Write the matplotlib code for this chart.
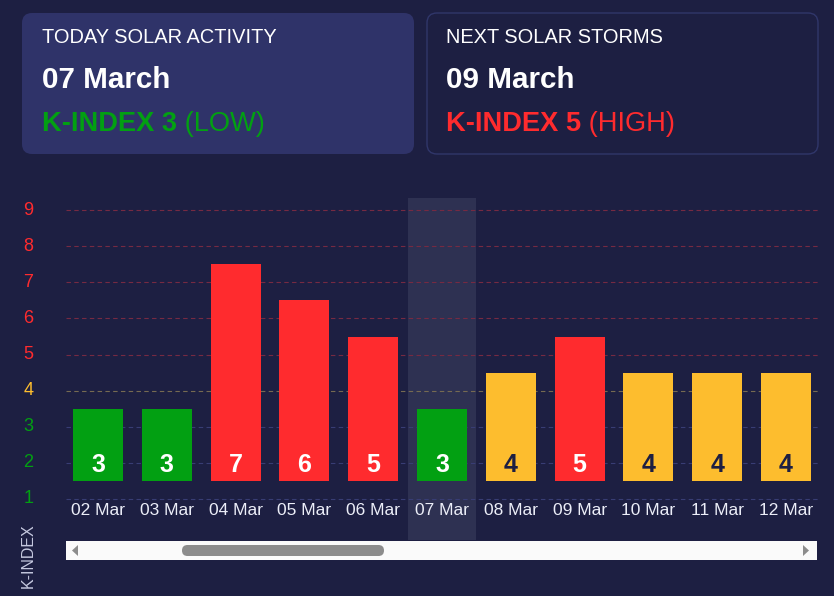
import numpy as np
from matplotlib import pyplot as plt
from matplotlib.patches import FancyBboxPatch, Rectangle, Polygon

plt.rcParams["font.family"] = ["Liberation Sans", "DejaVu Sans"]

dates = ["02 Mar", "03 Mar", "04 Mar", "05 Mar", "06 Mar", "07 Mar",
         "08 Mar", "09 Mar", "10 Mar", "11 Mar", "12 Mar"]
kindex = [3, 3, 7, 6, 5, 3, 4, 5, 4, 4, 4]
today_idx = 5
levels = [1, 2, 3, 4, 5, 6, 7, 8, 9]

BG = "#1d1f42"
CARD = "#2f3369"
GREEN = "#02a012"
YELLOW = "#fdbd2e"
RED = "#ff2b2e"


def level_color(k):
    if k <= 3:
        return GREEN
    if k == 4:
        return YELLOW
    return RED


def grid_color(k):
    if k <= 3:
        return "#383d74"
    if k == 4:
        return "#766a52"
    return "#762a42"


fig = plt.figure(figsize=(8.34, 5.96), dpi=100, facecolor=BG)

# full-figure pixel axes for cards and scrollbar
bg = fig.add_axes([0, 0, 1, 1])
bg.set_xlim(0, 834)
bg.set_ylim(596, 0)
bg.axis("off")
bg.set_facecolor(BG)

bg.add_patch(FancyBboxPatch((22, 13), 392, 141, boxstyle="round,pad=0,rounding_size=10",
                            fc=CARD, ec="none"))
bg.add_patch(FancyBboxPatch((427, 13), 391, 141, boxstyle="round,pad=0,rounding_size=10",
                            fc=BG, ec="#30366a", lw=1))

cards = [(42, "TODAY SOLAR ACTIVITY", "07 March", "K-INDEX 3", " (LOW)", GREEN),
         (446, "NEXT SOLAR STORMS", "09 March", "K-INDEX 5", " (HIGH)", RED)]
for x0, title, day, kbold, klevel, col in cards:
    bg.text(x0, 43, title, color="white", fontsize=14.4, va="baseline", ha="left")
    bg.text(x0, 88, day, color="white", fontsize=21.3, fontweight="bold", va="baseline", ha="left")
    t = bg.text(x0, 131, kbold, color=col, fontsize=19.6, fontweight="bold", va="baseline", ha="left")
    bg.annotate(klevel, xy=(1, 0), xycoords=t, color=col, fontsize=19.6, va="bottom", ha="left")

# scrollbar
bg.add_patch(Rectangle((66, 541), 751, 19, fc="#fafafa", ec="none"))
bg.add_patch(FancyBboxPatch((182, 545), 202, 11, boxstyle="round,pad=0,rounding_size=5.5",
                            fc="#8c8c8c", ec="none"))
bg.add_patch(Polygon([(72, 550.5), (78, 545), (78, 556)], closed=True, fc="#8c8c8c", ec="none"))
bg.add_patch(Polygon([(809, 550.5), (803, 545), (803, 556)], closed=True, fc="#8c8c8c", ec="none"))

bg.text(28, 556, "K-INDEX", rotation=90, color="#c5c8df", fontsize=11.5, ha="center", va="center")

# main chart
ax = fig.add_axes([66 / 834, 56 / 596, 752 / 834, 342 / 596])
ax.set_facecolor("none")
ax.set_xlim(-0.465, len(dates) - 1 + 0.465)
ax.set_ylim(-0.136, 9.338)
ax.axis("off")

ax.axvspan(today_idx - 0.5, today_idx + 0.5, color="#2e3152", zorder=0, lw=0)

for k in levels:
    ax.axhline(k, color=grid_color(k), ls=(0, (4, 3)), lw=0.8, zorder=1)
    ax.text(-0.05, k, str(k), transform=ax.get_yaxis_transform(), color=level_color(k),
            fontsize=13, ha="center", va="center")

x = np.arange(len(dates))
ax.bar(x, [k - 1 for k in kindex], bottom=1.5, width=0.727,
       color=[level_color(k) for k in kindex], zorder=2)

for i, k in enumerate(kindex):
    tc = "#1d1f42" if k == 4 else "white"
    ax.text(i, 1.95, str(k), color=tc, fontsize=18, fontweight="bold",
            ha="center", va="center", zorder=3)
    ax.text(i, 0.68, dates[i], color="#eceef8", fontsize=12.5, ha="center", va="center", zorder=3)

fig.savefig("out.png", dpi=100, facecolor=BG)
